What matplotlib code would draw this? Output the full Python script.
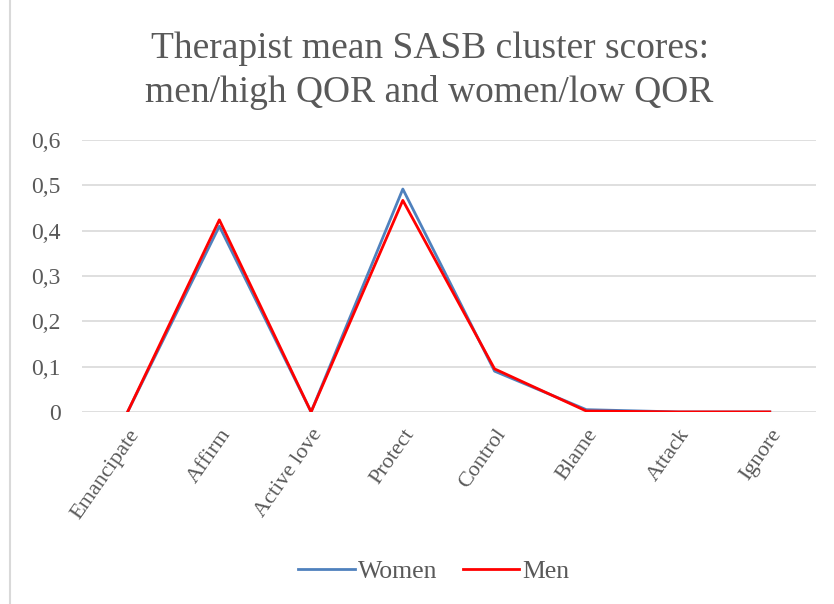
import numpy as np
import matplotlib.pyplot as plt
from matplotlib.ticker import FuncFormatter
from matplotlib.lines import Line2D

# Data
clusters = ['Emancipate', 'Affirm', 'Active love', 'Protect', 'Control', 'Blame', 'Attack', 'Ignore']
women = [0.0, 0.41, 0.0, 0.492, 0.09, 0.005, 0.0, 0.0]
men = [0.0, 0.424, 0.0, 0.467, 0.095, 0.002, 0.0, 0.0]
y_ticks = [0, 0.1, 0.2, 0.3, 0.4, 0.5, 0.6]

plt.rcParams['font.family'] = ['Liberation Serif', 'DejaVu Serif']
text_col = '#595959'

fig = plt.figure(figsize=(8.34, 6.04), dpi=100)
ax = fig.add_axes([0.098, 0.318, 0.88, 0.450])

x = np.arange(len(clusters))
ax.plot(x, women, color='#4f81bd', linewidth=2.0, label='Women', zorder=3)
ax.plot(x, men, color='#ff0000', linewidth=2.0, label='Men', zorder=4)

ax.set_xlim(-0.5, len(clusters) - 0.5)
ax.set_ylim(0, 0.6)
ax.set_yticks(y_ticks)
ax.yaxis.set_major_formatter(FuncFormatter(lambda v, p: ('%g' % round(v, 1)).replace('.', ',')))
ax.grid(axis='y', color='#d9d9d9', linewidth=1.2)
ax.set_axisbelow(True)
for s in ax.spines.values():
    s.set_visible(False)
ax.tick_params(axis='both', length=0, labelsize=17, colors=text_col)
ax.tick_params(axis='y', pad=15)
ax.set_xticks(x)
ax.set_xticklabels(clusters, rotation=55, ha='right', rotation_mode='anchor', fontsize=16)
ax.tick_params(axis='x', pad=10)

fig.suptitle('Therapist mean SASB cluster scores:\nmen/high QOR and women/low QOR',
             x=0.515, y=0.948, va='top', fontsize=27, color=text_col, linespacing=1.35)

fig.legend(handles=[Line2D([], [], color='#4f81bd', lw=2),
                    Line2D([], [], color='#ff0000', lw=2)],
           labels=['Women', 'Men'], loc='center', bbox_to_anchor=(0.52, 0.053),
           ncol=2, frameon=False, fontsize=18.5, labelcolor=text_col,
           handlelength=2.2, handletextpad=0.1, columnspacing=1.0)

# left chart border
fig.add_artist(Line2D([0.012, 0.012], [0, 1], color='#d9d9d9', lw=1.5, transform=fig.transFigure))

plt.savefig('out.png', dpi=100)
